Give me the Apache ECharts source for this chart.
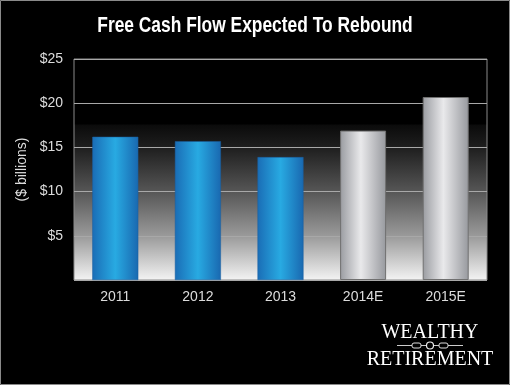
<!DOCTYPE html>
<html><head><meta charset="utf-8">
<script src="https://cdn.jsdelivr.net/npm/echarts@6/dist/echarts.min.js"></script>
<style>html,body{margin:0;padding:0;background:#000}#c{width:510px;height:385px}</style>
</head><body><div id="c"></div>
<script>
const titleText = 'Free Cash Flow Expected To Rebound';
const categories = ['2011','2012','2013','2014E','2015E'];
const values = [16.2, 15.7, 13.9, 16.9, 20.7];
const estimated = [false, false, false, true, true];
const yTicks = [0, 5, 10, 15, 20, 25];

const blue = {type:'linear',x:0,y:0,x2:1,y2:0,colorStops:[
  {offset:0,color:'#1a6db6'},{offset:0.5,color:'#28aae2'},{offset:1,color:'#1968b0'}]};
const silver = {type:'linear',x:0,y:0,x2:1,y2:0,colorStops:[
  {offset:0,color:'#9a9ca1'},{offset:0.45,color:'#e9e9eb'},{offset:1,color:'#97999e'}]};

const chart = echarts.init(document.getElementById('c'));
chart.setOption({
  backgroundColor:'#000',
  animation:false,
  grid:{left:74,right:23,top:59,bottom:105,show:true,borderColor:'#8a8a8a',borderWidth:1,
    backgroundColor:{type:'linear',x:0,y:0,x2:0,y2:1,colorStops:[
      {offset:0,color:'#000'},{offset:0.295,color:'#000'},{offset:0.30,color:'#0b0b0b'},
      {offset:0.40,color:'#1e1e1e'},{offset:0.60,color:'#565656'},{offset:0.80,color:'#9a9a9a'},
      {offset:1,color:'#f4f4f4'}]}},
  xAxis:{type:'category',data:categories,axisLine:{show:false},axisTick:{show:false},
    axisLabel:{color:'#dcdcdc',fontSize:14,fontFamily:'Liberation Sans',margin:10}},
  yAxis:{type:'value',min:yTicks[0],max:yTicks[yTicks.length-1],interval:5,
    name:'($ billions)',nameLocation:'middle',nameGap:45,nameRotate:90,
    nameTextStyle:{color:'#dcdcdc',fontSize:14,fontFamily:'Liberation Sans'},
    axisLine:{show:false},axisTick:{show:false},
    axisLabel:{color:'#dcdcdc',fontSize:14,fontFamily:'Liberation Sans',margin:11,
      formatter:v=>v===0?'':'$'+v},
    splitLine:{lineStyle:{color:'#a8a8a8',width:1}}},
  series:[{type:'bar',barWidth:46,
    data:values.map((v,i)=>({value:v,itemStyle:estimated[i]?
      {color:silver,borderColor:'#707070',borderWidth:1}:{color:blue,borderColor:'#1a5f9e',borderWidth:0.5}}))}],
  graphic:[
    {type:'rect',shape:{x:0.5,y:0.5,width:509,height:384},style:{fill:'none',stroke:'#8a8a8a',lineWidth:1}},
    {type:'text',x:255,y:26,scaleX:0.79,style:{text:titleText,fill:'#fff',font:'bold 22px "Liberation Sans"',align:'center',verticalAlign:'middle'}},
    {type:'text',x:430,y:333,style:{text:'WEALTHY',fill:'#fff',font:'20px "Liberation Serif"',align:'center',verticalAlign:'middle'}},
    {type:'text',x:430,y:360,style:{text:'RETIREMENT',fill:'#fff',font:'20px "Liberation Serif"',align:'center',verticalAlign:'middle'}},
    {type:'line',shape:{x1:397,y1:345.5,x2:463,y2:345.5},style:{stroke:'#ccc',lineWidth:1}},
    {type:'circle',shape:{cx:430,cy:345.5,r:3.5},style:{fill:'#000',stroke:'#eee',lineWidth:1.2}},
    {type:'rect',shape:{x:412,y:343,width:9,height:5,r:2},style:{fill:'#000',stroke:'#ddd',lineWidth:1}},
    {type:'rect',shape:{x:439,y:343,width:9,height:5,r:2},style:{fill:'#000',stroke:'#ddd',lineWidth:1}}
  ]
});
</script></body></html>
